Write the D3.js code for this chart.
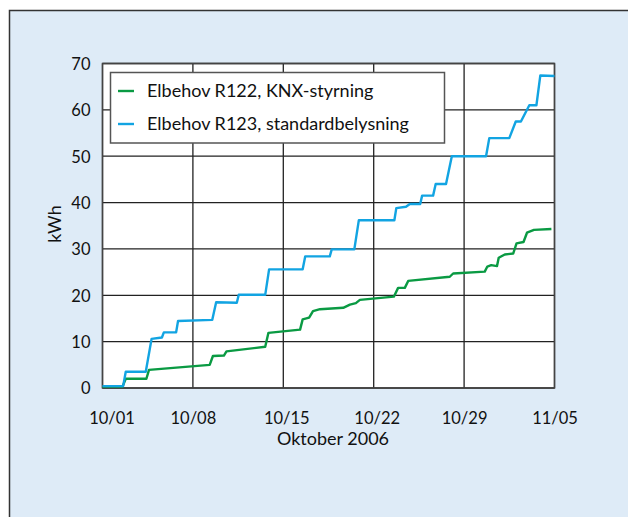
<!DOCTYPE html>
<html lang="sv">
<head>
<meta charset="utf-8">
<title>Elbehov oktober 2006</title>
<script src="https://d3js.org/d3.v7.min.js"></script>
<style>
  body { margin: 0; background: #fff; }
  svg text { font-family: "Lato", "DejaVu Sans", sans-serif; fill: #111; }
</style>
</head>
<body>
<script>
// days after 2006-10-01, kWh
var r122Days = [0, 1.55, 1.8, 3.4, 3.6, 8.3, 8.55, 9.4, 9.6, 12.6, 12.85, 15.3, 15.5, 16.0, 16.3, 16.84, 18.64, 19.16, 19.62, 19.93, 22.56, 22.89, 23.41, 23.67, 26.89, 27.15, 29.6, 29.8, 30.1, 30.55, 30.68, 31.15, 31.8, 32.06, 32.6, 32.87, 33.41, 34.76];
var r122Vals = [0.3, 0.3, 2.0, 2.0, 3.9, 5.0, 6.9, 7.0, 7.9, 8.9, 11.9, 12.6, 14.8, 15.2, 16.6, 17.0, 17.3, 18.0, 18.3, 19.0, 19.7, 21.6, 21.6, 23.1, 24.0, 24.7, 25.1, 26.2, 26.5, 26.3, 28.1, 28.8, 29.0, 31.2, 31.5, 33.5, 34.1, 34.3];

var r123Days = [0, 1.6, 1.8, 3.35, 3.8, 4.6, 4.75, 5.7, 5.85, 8.5, 8.8, 10.4, 10.55, 12.6, 12.9, 15.5, 15.7, 17.6, 17.75, 19.5, 19.85, 22.6, 22.75, 23.5, 23.8, 24.6, 24.75, 25.6, 25.8, 26.6, 27.05, 29.7, 29.95, 31.5, 32.0, 32.4, 33.05, 33.6, 33.9, 35];
var r123Vals = [0.4, 0.4, 3.5, 3.5, 10.6, 10.9, 12.0, 12.0, 14.45, 14.7, 18.5, 18.4, 20.1, 20.1, 25.6, 25.6, 28.4, 28.4, 29.9, 29.9, 36.2, 36.2, 38.8, 39.1, 39.7, 39.7, 41.5, 41.5, 44.0, 44.0, 50.0, 50.0, 53.9, 53.9, 57.5, 57.5, 61.0, 61.0, 67.4, 67.3];

var xTickDays = [0, 7, 14, 21, 28, 35];
var xTickLabels = ["10/01", "10/08", "10/15", "10/22", "10/29", "11/05"];
var yTicks = [0, 10, 20, 30, 40, 50, 60, 70];

var seriesNames = ["Elbehov R122, KNX-styrning", "Elbehov R123, standardbelysning"];
var seriesColors = ["#0a9a43", "#12a4e2"];

var start = new Date(2006, 9, 1);
function dayToDate(d) { return new Date(start.getTime() + d * 864e5); }

var series = [
  { name: seriesNames[0], color: seriesColors[0], pts: r122Days.map((d, i) => [dayToDate(d), r122Vals[i]]) },
  { name: seriesNames[1], color: seriesColors[1], pts: r123Days.map((d, i) => [dayToDate(d), r123Vals[i]]) }
];

var W = 628, H = 517;
var plotL = 102.5, plotR = 554.5, plotT = 63.5, plotB = 388;

var svg = d3.select("body").append("svg").attr("width", W).attr("height", H);

// panel
svg.append("rect")
  .attr("x", 9.5).attr("y", 10.5).attr("width", 640).attr("height", 540)
  .attr("fill", "#deebf7").attr("stroke", "#333").attr("stroke-width", 1.5);

var x = d3.scaleTime().domain([start, dayToDate(35)]).range([plotL, plotR]);
var y = d3.scaleLinear().domain([0, 70]).range([plotB, plotT]);

svg.append("rect")
  .attr("x", plotL).attr("y", plotT).attr("width", plotR - plotL).attr("height", plotB - plotT)
  .attr("fill", "#fff");

// grid
svg.append("g").selectAll("line").data(yTicks).join("line")
  .attr("x1", plotL).attr("x2", plotR)
  .attr("y1", d => y(d)).attr("y2", d => y(d))
  .attr("stroke", "#222").attr("stroke-width", 1.3);

svg.append("g").selectAll("line").data(xTickDays).join("line")
  .attr("x1", d => x(dayToDate(d))).attr("x2", d => x(dayToDate(d)))
  .attr("y1", plotT).attr("y2", plotB)
  .attr("stroke", "#222").attr("stroke-width", 1.3);

svg.append("rect")
  .attr("x", plotL).attr("y", plotT).attr("width", plotR - plotL).attr("height", plotB - plotT)
  .attr("fill", "none").attr("stroke", "#444").attr("stroke-width", 1.5);

// axes labels
var yAxis = d3.axisLeft(y).tickValues(yTicks).tickSize(0).tickPadding(12);
var gy = svg.append("g").attr("transform", `translate(${plotL},0)`).call(yAxis);
gy.select(".domain").remove();
gy.selectAll("text").style("font-size", "16.5px").attr("dy", "0.36em");

var xAxis = d3.axisBottom(x).tickValues(xTickDays.map(dayToDate)).tickSize(0).tickPadding(24)
  .tickFormat((d, i) => xTickLabels[i]);
var gx = svg.append("g").attr("transform", `translate(0,${plotB})`).call(xAxis);
gx.select(".domain").remove();
gx.selectAll("text").style("font-size", "16.5px").attr("dy", "0.71em")
  .attr("dx", (d, i) => i === 0 ? 9 : (i === 2 || i === 3) ? 3 : 0);

svg.append("text")
  .attr("x", 333).attr("y", 445)
  .attr("text-anchor", "middle").style("font-size", "18px")
  .text("Oktober 2006");

svg.append("text")
  .attr("transform", "translate(61,224) rotate(-90)")
  .attr("text-anchor", "middle").style("font-size", "18px")
  .text("kWh");

// lines
var line = d3.line().x(d => x(d[0])).y(d => y(d[1]));
svg.append("g").selectAll("path").data(series).join("path")
  .attr("d", d => line(d.pts))
  .attr("fill", "none")
  .attr("stroke", d => d.color)
  .attr("stroke-width", 2.4)
  .attr("stroke-linejoin", "round");

// legend
var lg = svg.append("g");
lg.append("rect")
  .attr("x", 110.5).attr("y", 72.5).attr("width", 334).attr("height", 70.5)
  .attr("fill", "#fff").attr("stroke", "#555").attr("stroke-width", 1.5);
var items = lg.selectAll("g.item").data(series).join("g")
  .attr("class", "item")
  .attr("transform", (d, i) => `translate(0,${91 + i * 33})`);
items.append("line")
  .attr("x1", 118).attr("x2", 134).attr("y1", 0).attr("y2", 0)
  .attr("stroke", d => d.color).attr("stroke-width", 2.4);
items.append("text")
  .attr("x", 147).attr("y", 0).attr("dy", "0.36em")
  .style("font-size", "18px")
  .text(d => d.name);
</script>
</body>
</html>
